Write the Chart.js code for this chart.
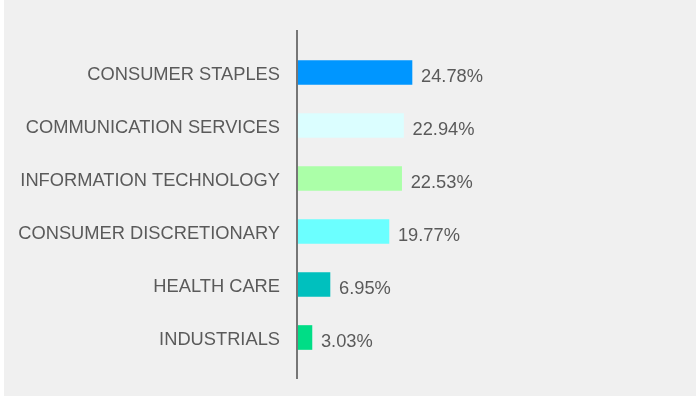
<!DOCTYPE html>
<html>
<head>
<meta charset="utf-8">
<script src="https://cdn.jsdelivr.net/npm/chart.js@4.4.1/dist/chart.umd.min.js"></script>
<style>
  html, body { margin: 0; padding: 0; background: #ffffff; }
  #wrap { position: absolute; left: 4px; top: 0; width: 692px; height: 396px; background: #f0f0f0; }
  canvas { display: block; }
</style>
</head>
<body>
<div id="wrap"><canvas id="chart" width="692" height="396"></canvas></div>
<script>
// Sector weights (percent of portfolio)
const sectors = [
  'CONSUMER STAPLES',
  'COMMUNICATION SERVICES',
  'INFORMATION TECHNOLOGY',
  'CONSUMER DISCRETIONARY',
  'HEALTH CARE',
  'INDUSTRIALS'
];
const weights = [24.78, 22.94, 22.53, 19.77, 6.95, 3.03];
const barColors = ['#0096ff', '#dbfeff', '#abffa8', '#6bffff', '#00c0be', '#00dd86'];

const textColor = '#5a5a5a';
const fontFamily = '"Liberation Sans", Arial, Helvetica, sans-serif';
const fontSize = 18.3;

// Value labels at the end of each bar
const valueLabels = {
  id: 'valueLabels',
  afterDatasetsDraw(chart) {
    const ctx = chart.ctx;
    const meta = chart.getDatasetMeta(0);
    ctx.save();
    ctx.font = fontSize + 'px ' + fontFamily;
    ctx.fillStyle = textColor;
    ctx.textAlign = 'left';
    ctx.textBaseline = 'middle';
    meta.data.forEach((bar, i) => {
      ctx.fillText(weights[i].toFixed(2) + '%', bar.x + 9, bar.y + 4);
    });
    ctx.restore();
  }
};

// Vertical baseline that runs a little past the category band
const baseLine = {
  id: 'baseLine',
  afterDraw(chart) {
    const { ctx, chartArea, scales } = chart;
    const x = scales.x.getPixelForValue(0) - 2;
    ctx.save();
    ctx.fillStyle = '#767676';
    ctx.fillRect(x, chartArea.top - 16, 2, chartArea.bottom - chartArea.top + 31);
    ctx.restore();
  }
};

new Chart(document.getElementById('chart'), {
  type: 'bar',
  data: {
    labels: sectors,
    datasets: [{
      data: weights,
      backgroundColor: barColors,
      borderWidth: 0,
      barThickness: 24
    }]
  },
  options: {
    indexAxis: 'y',
    responsive: false,
    animation: false,
    layout: { padding: { top: 46, bottom: 32, right: 30, left: 0 } },
    plugins: {
      legend: { display: false },
      tooltip: { enabled: false },
      title: { display: false }
    },
    scales: {
      x: {
        display: false,
        min: 0,
        max: 80
      },
      y: {
        grid: { display: false, drawTicks: false },
        border: { display: false },
        ticks: {
          color: textColor,
          padding: 18,
          labelOffset: 2,
          font: { family: fontFamily, size: fontSize }
        },
        afterFit(scale) { scale.width = 294; }
      }
    }
  },
  plugins: [valueLabels, baseLine]
});
</script>
</body>
</html>
